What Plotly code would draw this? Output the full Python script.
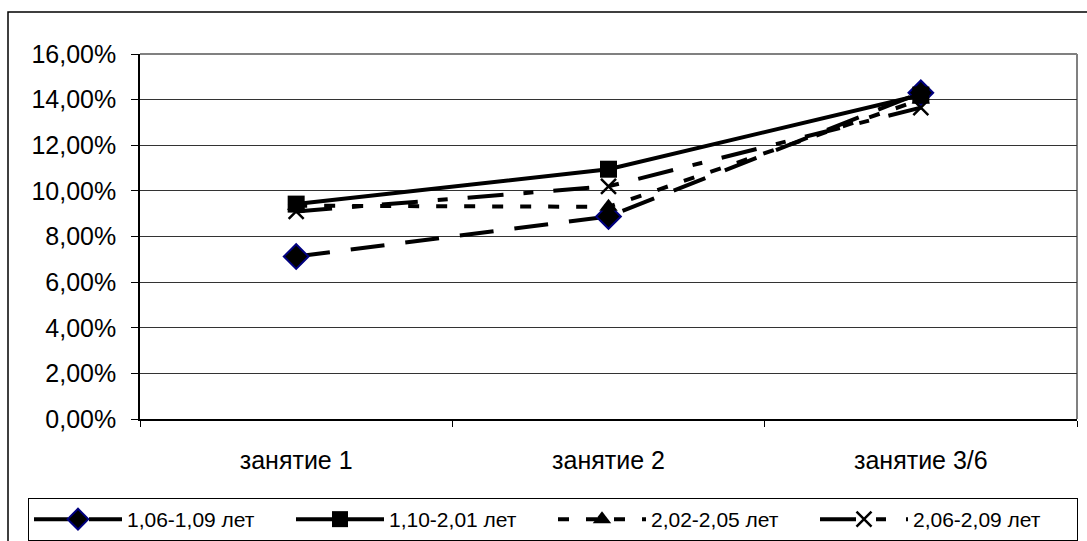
import plotly.graph_objects as go

categories = ["занятие 1", "занятие 2", "занятие 3/6"]
s1_name = "1,06-1,09 лет"
s2_name = "1,10-2,01 лет"
s3_name = "2,02-2,05 лет"
s4_name = "2,06-2,09 лет"
s1 = [0.0712, 0.0888, 0.1430]
s2 = [0.0942, 0.1095, 0.1420]
s3 = [0.0935, 0.0930, 0.1400]
s4 = [0.0910, 0.1020, 0.1365]
y_ticks = [0, 0.02, 0.04, 0.06, 0.08, 0.10, 0.12, 0.14, 0.16]

W, H = 1087, 541
L, R, T, B = 140, 1077, 54, 419
# paper box spans L..W horizontally (right margin 0), plot area set by domain
pw_paper, ph = W - L, B - T

def px(x):
    return (x - L) / pw_paper

def py(y):
    return (B - y) / ph

fig = go.Figure()
fig.add_trace(go.Scatter(x=categories, y=s1, name=s1_name, mode="lines+markers",
                         line=dict(color="black", width=4, dash="34px,21px"),
                         marker=dict(symbol="diamond", size=19, color="black",
                                     line=dict(color="#000080", width=2))))
fig.add_trace(go.Scatter(x=categories, y=s2, name=s2_name, mode="lines+markers",
                         line=dict(color="black", width=4, dash="solid"),
                         marker=dict(symbol="square", size=17, color="black")))
fig.add_trace(go.Scatter(x=categories, y=s3, name=s3_name, mode="lines+markers",
                         line=dict(color="black", width=4, dash="11px,17px"),
                         marker=dict(symbol="triangle-up", size=16, color="black")))
fig.add_trace(go.Scatter(x=categories, y=s4, name=s4_name, mode="lines+markers",
                         line=dict(color="black", width=4, dash="36px,20px,10px,20px"),
                         marker=dict(symbol="x-thin", size=15, color="black",
                                     line=dict(color="black", width=2.5))))

fig.update_layout(
    width=W, height=H,
    margin=dict(l=L, r=0, t=T, b=H - B, pad=0),
    paper_bgcolor="white", plot_bgcolor="white",
    separators=", ",
    font=dict(family="Liberation Sans, Arial, sans-serif", size=25, color="black"),
    showlegend=True,
    legend=dict(orientation="h", x=px(28), y=py(498), xanchor="left", yanchor="top",
                bordercolor="black", borderwidth=1, bgcolor="white",
                font=dict(size=21), itemwidth=88, entrywidth=159,
                tracegroupgap=0, traceorder="normal"),
    xaxis=dict(type="category", range=[-0.5, 2.5], showgrid=False,
               domain=[0, (R - L) / pw_paper],
               showline=True, linecolor="black", linewidth=1.5,
               ticks="outside", tickson="boundaries", ticklen=6, tickcolor="black",
               tickfont=dict(size=25), ticklabelstandoff=18, fixedrange=True),
    yaxis=dict(range=[0, 0.16], tickvals=y_ticks, tickformat=".2%",
               showgrid=True, gridcolor="#333333", gridwidth=1,
               showline=True, linecolor="black", linewidth=1.5,
               ticks="outside", ticklen=7, tickcolor="black",
               tickfont=dict(size=25), ticklabelstandoff=10,
               zeroline=False, fixedrange=True),
    shapes=[
        dict(type="rect", xref="paper", yref="paper", x0=px(8), x1=px(1095),
             y0=py(560), y1=py(12), line=dict(color="black", width=1.5),
             fillcolor="rgba(0,0,0,0)", layer="below"),
        dict(type="line", xref="x domain", yref="y domain", x0=0, x1=1, y0=1, y1=1,
             line=dict(color="#808080", width=2), layer="below"),
        dict(type="line", xref="x domain", yref="y domain", x0=1, x1=1, y0=0, y1=1,
             line=dict(color="#808080", width=2), layer="below"),
    ],
)

fig.write_html("out.html")
